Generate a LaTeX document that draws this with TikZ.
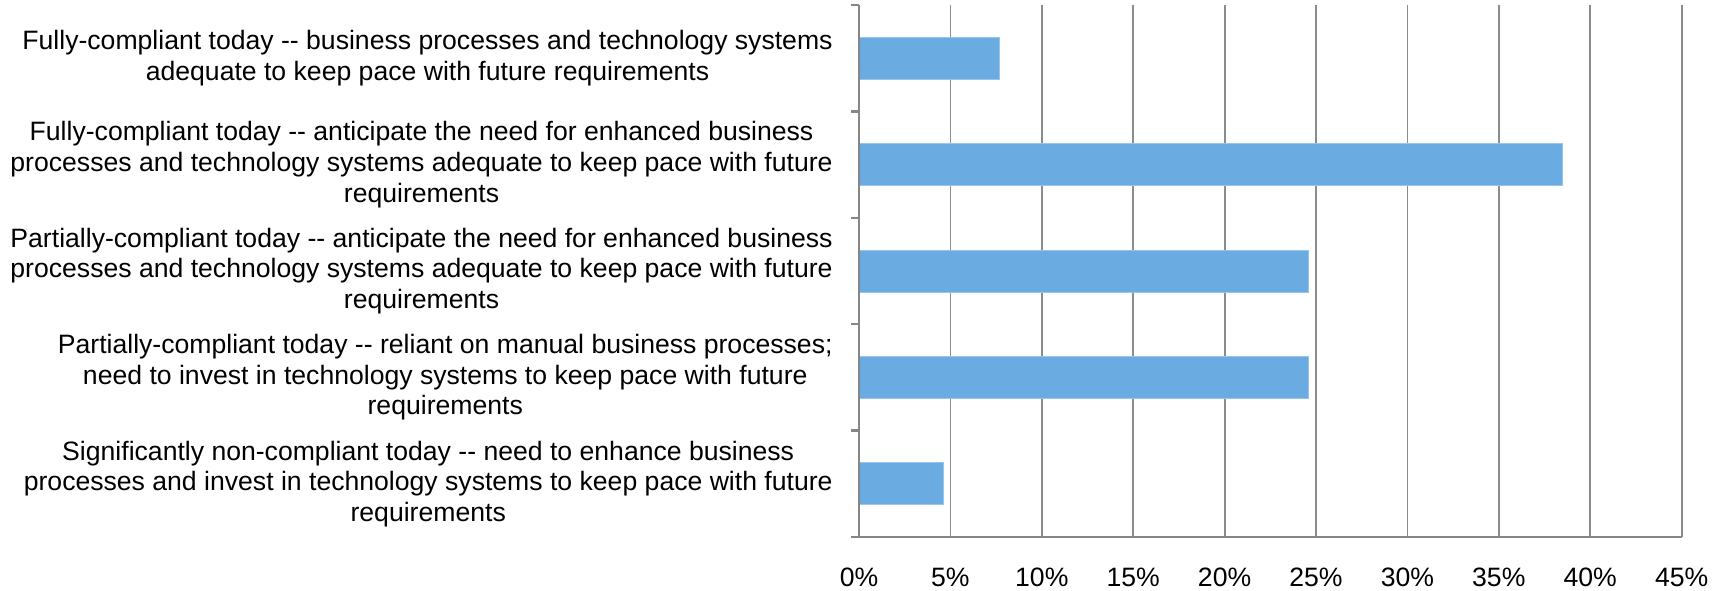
\documentclass[tikz,border=0pt]{standalone}
\usepackage{fontspec}
\setmainfont{Liberation Sans}
\usetikzlibrary{positioning}
\definecolor{barblue}{RGB}{106,172,226}
\definecolor{gridgray}{RGB}{140,140,140}
\definecolor{axisgray}{RGB}{134,134,134}
\newcommand{\chartfont}{\fontsize{13.3}{15.3}\selectfont}
\newcommand{\dd}{-{}-}

\begin{document}
\begin{tikzpicture}
  [
      x=0.5pt, y=-0.5pt,
      bar/.style={fill=barblue, draw=barblue!70!white, line width=0.4pt},
      grid line/.style={draw=gridgray, line width=0.9pt},
      axis line/.style={draw=axisgray, line width=1.2pt},
      cat label/.style={anchor=east, align=center, inner sep=0pt, font=\chartfont},
      tick label/.style={inner sep=0pt, font=\chartfont}
    ]
    \useasboundingbox (0,0) rectangle (1718,590);
    % grid and bars
    \foreach \p in {1,...,9}
      \draw [grid line] ({859+91.4*\p},5) -- ({859+91.4*\p},537);
    \foreach \v [count=\i] in {7.7,38.5,24.6,24.6,4.6}
      \filldraw [bar] (859,{5+106.4*(\i-0.5)-21}) rectangle ({859+18.28*\v},{5+106.4*(\i-0.5)+21});
    % axes
    \draw [axis line] (859,5) -- (859,537) -- (1682,537);
    \foreach \k in {0,...,5}
      \draw [axis line] (851,{5+106.4*\k}) -- (859,{5+106.4*\k});
    \foreach \pc [count=\p from 0] in {0,5,...,45}
      \node (tick\p) [tick label] at ({859+91.4*\p},577) {\pc\%};
    % category labels
    \node (cat1) [cat label] at (833,58.2) {Fully-compliant today \dd{} business processes and technology systems\\adequate to keep pace with future requirements};
    \node (cat2) [cat label] at (833,164.6) {Fully-compliant today \dd{} anticipate the need for enhanced business\\processes and technology systems adequate to keep pace with future\\requirements};
    \node (cat3) [cat label] at (833,271) {Partially-compliant today \dd{} anticipate the need for enhanced business\\processes and technology systems adequate to keep pace with future\\requirements};
    \node (cat4) [cat label] at (833,377.4) {Partially-compliant today \dd{} reliant on manual business processes;\\need to invest in technology systems to keep pace with future\\requirements};
    \node (cat5) [cat label] at (833,483.8) {Significantly non-compliant today \dd{} need to enhance business\\processes and invest in technology systems to keep pace with future\\requirements};
  \end{tikzpicture}
\end{document}
